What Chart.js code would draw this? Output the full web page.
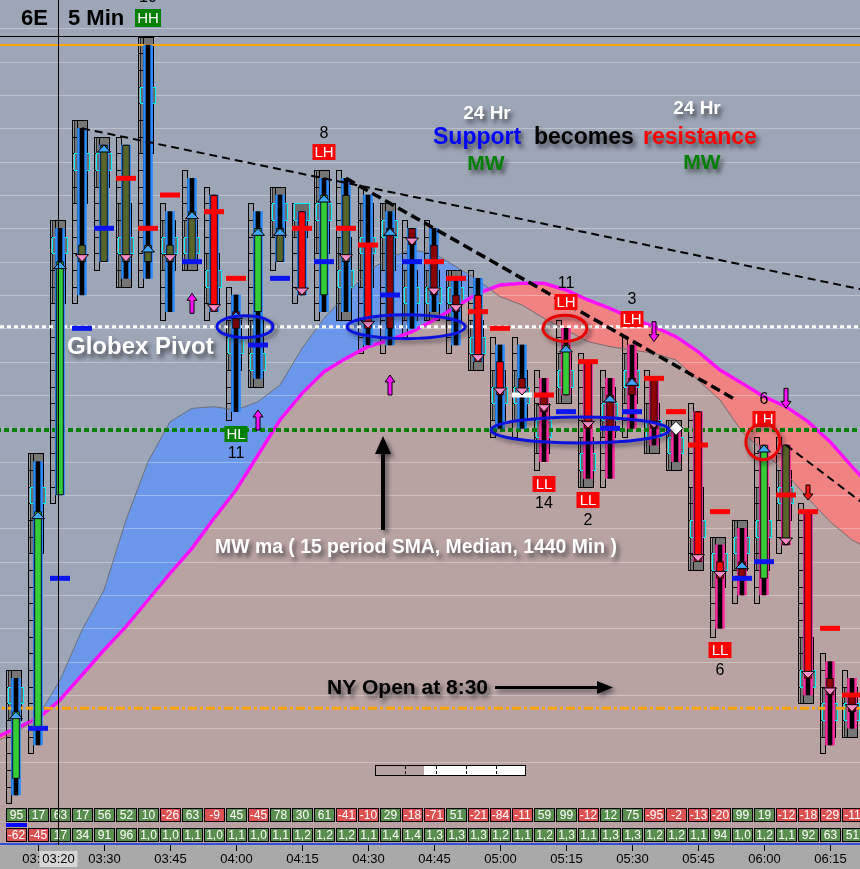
<!DOCTYPE html>
<html>
<head>
<meta charset="utf-8">
<title>6E 5 Min</title>
<script src="https://cdn.jsdelivr.net/npm/chart.js@4.4.1/dist/chart.umd.min.js"></script>
<style>
  html, body { margin: 0; padding: 0; background: #9da6b6; overflow: hidden; }
  canvas { display: block; }
</style>
</head>
<body>
<canvas id="chart" width="860" height="869"></canvas>
<script>
// 6E (Euro FX futures), 5-minute bars

const times = ['03:10','03:15','03:20','03:25','03:30','03:35','03:40','03:45','03:50','03:55',
  '04:00','04:05','04:10','04:15','04:20','04:25','04:30','04:35','04:40','04:45',
  '04:50','04:55','05:00','05:05','05:10','05:15','05:20','05:25','05:30','05:35',
  '05:40','05:45','05:50','05:55','06:00','06:05','06:10','06:15','06:20'];

const opens  = [1.3201,1.3204,1.3218,1.3233,1.3232,1.3239,1.3232,1.3233,1.3232,1.3236,
  1.3228,1.3229,1.3232,1.3235,1.3230,1.3236,1.3233,1.3228,1.3234,1.3233,
  1.3230,1.3230,1.3226,1.3225,1.3224,1.3224,1.3226,1.3222,1.3224,1.3225,
  1.3222,1.3223,1.3214,1.3213,1.3213,1.3221,1.3217,1.3207,1.3206];
const highs  = [1.3207,1.3220,1.3234,1.3240,1.3239,1.3239,1.3245,1.3235,1.3237,1.3236,
  1.3230,1.3235,1.3236,1.3235,1.3237,1.3237,1.3236,1.3235,1.3234,1.3234,
  1.3231,1.3231,1.3227,1.3227,1.3225,1.3228,1.3226,1.3225,1.3227,1.3225,
  1.3222,1.3223,1.3215,1.3216,1.3221,1.3221,1.3217,1.3208,1.3207];
const lows   = [1.3200,1.3203,1.3218,1.3230,1.3232,1.3231,1.3231,1.3229,1.3232,1.3229,
  1.3223,1.3225,1.3232,1.3230,1.3229,1.3229,1.3227,1.3227,1.3228,1.3229,
  1.3227,1.3226,1.3222,1.3222,1.3220,1.3224,1.3219,1.3219,1.3222,1.3221,
  1.3220,1.3214,1.3210,1.3212,1.3212,1.3215,1.3206,1.3203,1.3204];
const closes = [1.3205,1.3217,1.3232,1.3232,1.3239,1.3232,1.3233,1.3232,1.3235,1.3229,
  1.3229,1.3234,1.3234,1.3230,1.3236,1.3232,1.3228,1.3234,1.3233,1.3230,
  1.3229,1.3226,1.3224,1.3224,1.3223,1.3227,1.3222,1.3224,1.3225,1.3222,
  1.3222,1.3214,1.3213,1.3214,1.3221,1.3215,1.3207,1.3206,1.3205];

// price of the busiest level inside each bar
const poc = [1.3206,1.3218,1.3233,1.3238,1.3238,1.3233,1.3242,1.3233,1.3233,1.3231,
  1.3227,1.3226,1.3235,1.3235,1.3235,1.3231,1.3233,1.3234,1.3230,1.3230,
  1.3230,1.3227,1.3224,1.3224,1.3222,1.3225,1.3220,1.3223,1.3225,1.3222,
  1.3221,1.3216,1.3214,1.3215,1.3216,1.3218,1.3207,1.3205,1.3205];

// body tone: G strong up, O weak, R strong down, D weak down
const bodyTone = ['G','G','G','O','O','O','O','O','O','R','D','G','O','R','G','O','R','D','D','D',
  'D','R','R','D','D','G','R','D','D','D','D','R','R','D','G','O','R','D','D'];
// trend state of each bar (outline colour)
const trendState = ['up','up','up','up','up','up','up','up','up','up','up','up','up','up','up','up',
  'up','up','up','up','up','up','up','up','dn','dn','dn','dn','dn','dn','dn','dn','dn','dn','dn',
  'dn','dn','dn','dn'];

// short level markers next to the bars (s = support, r = resistance, w = neutral)
const markBars   = [1,2,3,4,5,6,7,8,9,10,11,12,13,14,15,16,17,18,19,20,21,22,23,24,25,26,27,28,29,30,
  31,32,33,34,35,36,37,38];
const markPrices = [1.3204,1.3213,1.3228,1.3234,1.3237,1.3234,1.3236,1.3232,1.3235,1.3231,
  1.3227,1.3231,1.3234,1.3232,1.3234,1.3233,1.3230,1.3232,1.3232,1.3231,
  1.3229,1.3228,1.3224,1.3224,1.3223,1.3226,1.3222,1.3223,1.3225,1.3223,
  1.3221,1.3217,1.3213,1.3214,1.3218,1.3217,1.3210,1.3206];
const markKinds  = ['s','s','s','s','r','r','r','s','r','r','s','s','r','s','r','r','s','s','r','r',
  'r','r','w','r','s','r','s','s','r','r','r','r','s','s','r','r','r','r'];

// MW moving average (15 period SMA, median, 1440 min) and the 24 hr MW line, 03:05 – 06:25
const mwMa = [1.32034,1.32040,1.32046,1.32057,1.32072,1.32087,1.32101,1.32117,1.32133,1.32148,
  1.32166,1.32183,1.32204,1.32225,1.32241,1.32254,1.32262,1.32269,1.32273,1.32278,
  1.32285,1.32293,1.32301,1.32306,1.32307,1.32307,1.32303,1.32297,1.32292,1.32286,
  1.32281,1.32275,1.32266,1.32255,1.32247,1.32239,1.32233,1.32224,1.32212,1.32197,1.32183];
const mw24 = [1.32032,1.32037,1.32047,1.32069,1.32099,1.32123,1.32165,1.32200,1.32224,1.32232,
  1.32233,1.32231,1.32236,1.32246,1.32268,1.32286,1.32300,1.32314,1.32323,1.32327,
  1.32325,1.32317,1.32309,1.32299,1.32294,1.32286,1.32279,1.32272,1.32269,1.32267,
  1.32265,1.32261,1.32249,1.32237,1.32218,1.32206,1.32193,1.32178,1.32164,1.32153,1.32146];

// horizontal levels
const dayHigh = 1.3245;
const globexPivot = 1.32281;
const mwLevel = 1.32219;
const nyLevel = 1.32052;

// trend lines: two anchor bars/prices and the bar where the line stops
const trendFrom = [[3, 1.3240], [15, 1.3237], [35, 1.3221]];
const trendTo   = [[14, 1.3237], [19, 1.3234], [38, 1.3218]];
const trendEnd  = [39, 32.6, 39];

// swing labels
const swingBars   = [6, 14, 10, 25, 28, 24, 26, 32, 34];
const swingTags   = ['HH','LH','HL','LH','LH','LL','LL','LL','LH'];
const swingCounts = [10, 8, 11, 11, 3, 14, 2, 6, 6];

// flow arrows: bar, direction, tip price
const flowBars = [8, 11, 17, 29, 35, 36];
const flowDirs = ['up','up','up','dn','dn','dn'];
const flowTips = [1.32301, 1.32231, 1.32252, 1.32272, 1.32232, 1.32177];

// bottom rows
const deltaRow = [95,17,63,17,56,52,10,-26,63,-9,45,-45,78,30,61,-41,-10,29,-18,-71,
  51,-21,-84,-11,59,99,-12,12,75,-95,-2,-13,-20,99,19,-12,-18,-29,-11];
const volRow = ['-62','-45','17','34','91','96','1,0','1,0','1,1','1,0','1,1','1,0','1,1','1,2','1,2',
  '1,2','1,1','1,4','1,4','1,3','1,3','1,3','1,2','1,1','1,2','1,3','1,1','1,3','1,3','1,2',
  '1,2','1,1','94','1,0','1,2','1,1','92','63','51'];

const cursorT = 1.9;   // crosshair position (bar units)
const TICK = 0.0001;

// ---------- styling ----------
const toneColor = { G: '#35cc35', O: '#57652b', R: '#ff0000', D: '#8b0000' };
const trendColor = { up: '#2a8cff', dn: '#ff2aa0' };
const markColor = { s: '#0a14f0', r: '#ff0000', w: '#ffffff' };
const SANS = '"Liberation Sans", Arial, sans-serif';

function levelLine(value) { return [{ x: -2, y: value }, { x: 41, y: value }]; }
function trendData(j) {
  const [t0, p0] = trendFrom[j], [t1, p1] = trendTo[j];
  const slope = (p1 - p0) / (t1 - t0);
  return [{ x: t0, y: p0 }, { x: trendEnd[j], y: p0 + slope * (trendEnd[j] - t0) }];
}

function shadowText(ctx, txt, x, y, font, color, align) {
  ctx.save();
  ctx.font = font; ctx.textAlign = align || 'left'; ctx.textBaseline = 'middle';
  ctx.shadowColor = 'rgba(40,40,45,0.7)'; ctx.shadowOffsetX = 3; ctx.shadowOffsetY = 4; ctx.shadowBlur = 4;
  ctx.fillStyle = color; ctx.fillText(txt, x, y);
  ctx.restore();
}

function arrow(ctx, x, tipY, dir, len, headW, headH, shaftW, fill) {
  const s = dir === 'up' ? 1 : -1;
  ctx.beginPath();
  ctx.moveTo(x, tipY);
  ctx.lineTo(x + headW / 2, tipY + s * headH);
  ctx.lineTo(x + shaftW / 2, tipY + s * headH);
  ctx.lineTo(x + shaftW / 2, tipY + s * len);
  ctx.lineTo(x - shaftW / 2, tipY + s * len);
  ctx.lineTo(x - shaftW / 2, tipY + s * headH);
  ctx.lineTo(x - headW / 2, tipY + s * headH);
  ctx.closePath();
  ctx.fillStyle = fill; ctx.fill();
  ctx.strokeStyle = '#000'; ctx.lineWidth = 1; ctx.stroke();
}

const decor = {
  id: 'decor',
  beforeDraw(chart) {
    const { ctx, width, height, chartArea } = chart;
    ctx.save();
    ctx.fillStyle = '#9da6b6'; ctx.fillRect(0, 0, width, height);
    ctx.fillStyle = '#b8a1a1'; ctx.fillRect(0, chartArea.bottom, width, 845 - chartArea.bottom);
    ctx.fillStyle = '#a9a9a9'; ctx.fillRect(0, 845, width, height - 845);
    ctx.restore();
  },
  beforeDatasetsDraw(chart) {
    const { ctx, chartArea } = chart;
    const xs = chart.scales.x, ys = chart.scales.y;
    ctx.save();
    // price grid, over the band fills
    ctx.strokeStyle = 'rgba(255,255,255,0.32)'; ctx.lineWidth = 1;
    ys.ticks.forEach(t => {
      const v = t.value / TICK;
      if (Math.abs(v - Math.round(v)) > 1e-3) return;
      const y = Math.round(ys.getPixelForValue(t.value)) + 0.5;
      ctx.beginPath(); ctx.moveTo(chartArea.left, y); ctx.lineTo(chartArea.right, y); ctx.stroke();
    });
    // per-bar price ladders
    times.forEach((t, i) => {
      const cx = Math.round(xs.getPixelForValue(i));
      const lo = Math.round(lows[i] / TICK), hi = Math.round(highs[i] / TICK), pc = Math.round(poc[i] / TICK);
      const reach = Math.max(1, Math.round((hi - lo) / 5));
      for (let k = lo; k <= hi; k++) {
        const yT = Math.round(ys.getPixelForValue((k + 0.5) * TICK));
        const yB = Math.round(ys.getPixelForValue((k - 0.5) * TICK));
        if (k !== pc && Math.abs(k - pc) <= reach) {
          ctx.fillStyle = '#767676'; ctx.fillRect(cx - 8, yT, 14, yB - yT);
          ctx.strokeStyle = '#000'; ctx.lineWidth = 1; ctx.strokeRect(cx - 7.5, yT + 0.5, 13, yB - yT);
        }
        ctx.fillStyle = 'rgba(125,125,125,0.3)'; ctx.fillRect(cx - 9, yT, 5, yB - yT);
        ctx.strokeStyle = '#000'; ctx.lineWidth = 1; ctx.strokeRect(cx - 9.5, yT + 0.5, 5, yB - yT);
      }
      const yT = Math.round(ys.getPixelForValue((pc + 0.5) * TICK));
      const yB = Math.round(ys.getPixelForValue((pc - 0.5) * TICK));
      ctx.fillStyle = '#6c6c6c'; ctx.fillRect(cx - 8, yT, 15, yB - yT);
      ctx.strokeStyle = '#00f0ff'; ctx.strokeRect(cx - 7.5, yT + 0.5, 15, yB - yT);
    });
    ctx.restore();
  },
  afterDatasetsDraw(chart) {
    const { ctx } = chart;
    const xs = chart.scales.x, ys = chart.scales.y;
    ctx.save();
    // close markers
    times.forEach((t, i) => {
      const cx = Math.round(xs.getPixelForValue(i));
      const cy = ys.getPixelForValue(closes[i]);
      ctx.lineWidth = 1; ctx.strokeStyle = '#000';
      ctx.beginPath();
      if (closes[i] > opens[i]) {
        ctx.moveTo(cx, cy); ctx.lineTo(cx + 6.5, cy + 7); ctx.lineTo(cx - 6.5, cy + 7);
        ctx.fillStyle = '#3ea6ff';
      } else if (closes[i] < opens[i]) {
        ctx.moveTo(cx, cy); ctx.lineTo(cx + 6.5, cy - 7); ctx.lineTo(cx - 6.5, cy - 7);
        ctx.fillStyle = '#ff8cc6';
      } else {
        ctx.moveTo(cx, cy - 7); ctx.lineTo(cx + 7, cy); ctx.lineTo(cx, cy + 7); ctx.lineTo(cx - 7, cy);
        ctx.fillStyle = '#ffffff';
      }
      ctx.closePath(); ctx.fill(); ctx.stroke();
    });
    // flow arrows
    flowBars.forEach((b, j) => {
      const x = Math.round(xs.getPixelForValue(b));
      const tip = ys.getPixelForValue(flowTips[j]);
      if (j === flowBars.length - 1) arrow(ctx, x, tip, flowDirs[j], 15, 10, 6, 4, '#ff1010');
      else arrow(ctx, x, tip, flowDirs[j], 20, 10, 7, 4, '#ff10ff');
    });
    // swing labels
    swingBars.forEach((b, j) => {
      const tag = swingTags[j];
      const atHigh = tag[1] === 'H';
      const cx = Math.round(xs.getPixelForValue(b));
      const w = tag === 'HH' ? 26 : 23, h = tag === 'HH' ? 18 : 16;
      let top, numY;
      if (atHigh) { top = ys.getPixelForValue(highs[b]) - 18 - h; numY = top - 11; }
      else { top = ys.getPixelForValue(lows[b]) + 14; numY = top + h + 12; }
      ctx.fillStyle = tag[0] === 'H' ? '#008000' : '#ff0000';
      ctx.fillRect(cx - w / 2, Math.round(top), w, h);
      ctx.font = '15px ' + SANS; ctx.textAlign = 'center'; ctx.textBaseline = 'middle';
      ctx.fillStyle = '#ffffff'; ctx.fillText(tag, cx, Math.round(top) + h / 2 + 1);
      ctx.font = '16px ' + SANS; ctx.fillStyle = '#000';
      ctx.fillText(String(swingCounts[j]), cx, numY);
    });
    // ellipses around the tested levels
    const rings = [
      { t: 10.41, p: globexPivot, rx: 28, ry: 11, c: '#0a12e0' },
      { t: 17.73, p: globexPivot, rx: 59, ry: 12, c: '#0a12e0' },
      { t: 25.64, p: mwLevel, rx: 89, ry: 13, c: '#0a12e0' },
      { t: 24.95, p: 1.32280, rx: 22, ry: 13, c: '#e80000' },
      { t: 33.95, p: 1.32212, rx: 17, ry: 18, c: '#e80000' }
    ];
    rings.forEach(r => {
      ctx.save();
      ctx.shadowColor = 'rgba(30,30,40,0.55)'; ctx.shadowBlur = 4; ctx.shadowOffsetX = 3; ctx.shadowOffsetY = 3;
      ctx.beginPath();
      ctx.ellipse(xs.getPixelForValue(r.t), ys.getPixelForValue(r.p), r.rx, r.ry, 0, 0, Math.PI * 2);
      ctx.strokeStyle = r.c; ctx.lineWidth = 3; ctx.stroke();
      ctx.restore();
    });
    // annotations
    shadowText(ctx, 'Globex Pivot', 67, 347, 'bold 24px ' + SANS, '#ffffff');
    shadowText(ctx, '24 Hr', 487, 114, 'bold 19px ' + SANS, '#ffffff', 'center');
    shadowText(ctx, '24 Hr', 697, 109, 'bold 19px ' + SANS, '#ffffff', 'center');
    shadowText(ctx, 'Support', 433, 138, 'bold 23px ' + SANS, '#0000ff');
    shadowText(ctx, 'becomes', 534, 138, 'bold 23px ' + SANS, '#000000');
    shadowText(ctx, 'resistance', 643, 138, 'bold 23px ' + SANS, '#ff0000');
    shadowText(ctx, 'MW', 486, 164, 'bold 21px ' + SANS, '#008000', 'center');
    shadowText(ctx, 'MW', 702, 163, 'bold 21px ' + SANS, '#008000', 'center');
    shadowText(ctx, 'MW ma ( 15 period SMA, Median, 1440 Min )', 416, 548, 'bold 19.4px ' + SANS, '#ffffff', 'center');
    shadowText(ctx, 'NY Open at 8:30', 327, 688, 'bold 21px ' + SANS, '#000000');
    ctx.save();
    ctx.shadowColor = 'rgba(30,30,40,0.55)'; ctx.shadowBlur = 4; ctx.shadowOffsetX = 3; ctx.shadowOffsetY = 3;
    ctx.fillStyle = '#000';
    // arrow toward the NY open
    ctx.fillRect(495, 686, 104, 3);
    ctx.beginPath(); ctx.moveTo(613, 687.5); ctx.lineTo(597, 681); ctx.lineTo(597, 694); ctx.closePath(); ctx.fill();
    // arrow up to the MW band
    ctx.fillRect(381, 450, 4, 80);
    ctx.beginPath(); ctx.moveTo(383, 436); ctx.lineTo(391, 454); ctx.lineTo(375, 454); ctx.closePath(); ctx.fill();
    ctx.restore();
    // scroll widget
    ctx.fillStyle = '#ffffff'; ctx.fillRect(424, 765, 101, 11);
    ctx.strokeStyle = '#000'; ctx.lineWidth = 1; ctx.strokeRect(375.5, 765.5, 150, 10);
    ctx.setLineDash([3, 2]);
    [405, 436, 466, 496].forEach(x => { ctx.beginPath(); ctx.moveTo(x + 0.5, 766); ctx.lineTo(x + 0.5, 775); ctx.stroke(); });
    ctx.setLineDash([]);
    ctx.restore();
  },
  afterDraw(chart) {
    const { ctx, width } = chart;
    const xs = chart.scales.x;
    ctx.save();
    // bottom rows
    ctx.font = '12px ' + SANS; ctx.textAlign = 'center'; ctx.textBaseline = 'middle';
    times.forEach((t, i) => {
      const cx = Math.round(xs.getPixelForValue(i));
      const cells = [[String(deltaRow[i]), deltaRow[i] < 0, 808], [volRow[i], volRow[i][0] === '-', 828]];
      cells.forEach(([txt, neg, y]) => {
        ctx.fillStyle = neg ? '#dc5252' : '#5a8e4e';
        ctx.fillRect(cx - 10, y, 21, 14);
        ctx.strokeStyle = '#000'; ctx.lineWidth = 1; ctx.strokeRect(cx - 9.5, y + 0.5, 20, 13);
        ctx.fillStyle = '#fff'; ctx.fillText(txt, cx + 0.5, y + 7.5);
      });
    });
    ctx.fillStyle = '#0000ff'; ctx.fillRect(Math.round(xs.getPixelForValue(0)) - 10, 823, 21, 4);
    ctx.fillStyle = '#3050d8'; ctx.fillRect(0, 843, width, 2);
    // time axis
    ctx.font = '13px ' + SANS; ctx.fillStyle = '#000'; ctx.strokeStyle = '#000';
    times.forEach((t, i) => {
      if (+t.slice(3) % 15 !== 0) return;
      const x = Math.round(xs.getPixelForValue(i)) + 0.5;
      ctx.beginPath(); ctx.moveTo(x, 845); ctx.lineTo(x, 851); ctx.stroke();
      ctx.fillText(t, x, 859);
    });
    // crosshair
    const cxh = Math.round(xs.getPixelForValue(cursorT)) + 0.5;
    ctx.beginPath(); ctx.moveTo(cxh, 0); ctx.lineTo(cxh, 845); ctx.stroke();
    ctx.fillStyle = '#d6d6d6'; ctx.fillRect(cxh - 19, 851, 38, 16);
    ctx.fillStyle = '#000'; ctx.fillText(times[Math.round(cursorT)], cxh, 859);
    // header
    ctx.beginPath(); ctx.moveTo(0, 36.5); ctx.lineTo(width, 36.5); ctx.stroke();
    ctx.font = 'bold 22px ' + SANS; ctx.textAlign = 'right';
    ctx.fillText('6E', 48, 19);
    ctx.textAlign = 'left';
    ctx.fillText('5 Min', 68, 19);
    ctx.restore();
  }
};

const barCommon = { type: 'bar', grouped: false, borderSkipped: false };
const bodyBars = times.map((t, i) => i).filter(i => opens[i] !== closes[i]);

new Chart(document.getElementById('chart'), {
  type: 'bar',
  data: {
    datasets: [
      { type: 'line', label: 'MW ma', data: mwMa.map((v, i) => ({ x: i - 1, y: v })),
        borderColor: '#ff10ff', borderWidth: 3.5, pointRadius: 0, tension: 0,
        fill: 'start', backgroundColor: '#b9a2a2', order: 30 },
      { type: 'line', label: 'MW 24 Hr', data: mw24.map((v, i) => ({ x: i - 1, y: v })),
        borderColor: 'rgba(105,105,110,0.9)', borderWidth: 1, pointRadius: 0, tension: 0,
        fill: { target: 0, above: '#6a97ea', below: '#f08282' }, order: 29 },
      { type: 'line', label: 'High', data: levelLine(dayHigh), borderColor: '#ffa500', borderWidth: 2,
        pointRadius: 0, order: 25 },
      { type: 'line', label: 'Globex Pivot', data: levelLine(globexPivot), borderColor: '#ffffff', borderWidth: 3,
        borderDash: [4, 3], pointRadius: 0, order: 25 },
      { type: 'line', label: 'MW level', data: levelLine(mwLevel), borderColor: '#008000', borderWidth: 4,
        borderDash: [5, 3], pointRadius: 0, order: 25 },
      { type: 'line', label: 'NY', data: levelLine(nyLevel), borderColor: '#ffa500', borderWidth: 3,
        borderDash: [9, 3, 3, 3], pointRadius: 0, order: 25 },
      { ...barCommon, label: 'trend', data: times.map((t, i) => ({ x: i, y: [lows[i], highs[i]] })),
        backgroundColor: trendState.map(s => trendColor[s]), barThickness: 9, maxBarThickness: 9, order: 20 },
      { ...barCommon, label: 'range', data: times.map((t, i) => ({ x: i, y: [lows[i], highs[i]] })),
        backgroundColor: '#000000', barThickness: 4, maxBarThickness: 4, order: 19 },
      { ...barCommon, label: 'body',
        data: bodyBars.map(i => ({ x: i, y: [opens[i], closes[i]] })),
        backgroundColor: bodyBars.map(i => toneColor[bodyTone[i]]), borderColor: '#000', borderWidth: 1,
        barThickness: 7, maxBarThickness: 7, order: 18 },
      { type: 'scatter', label: 'levels', data: markBars.map((b, j) => ({ x: b, y: markPrices[j] })),
        pointStyle: 'line', pointRadius: 10, pointBorderWidth: 5,
        pointBorderColor: markKinds.map(k => markColor[k]), pointBackgroundColor: markKinds.map(k => markColor[k]),
        order: 17 },
      ...trendFrom.map((a, j) => ({ type: 'line', label: 'trend line', data: trendData(j),
        borderColor: '#000', borderWidth: j === 1 ? 3.5 : 2, borderDash: j === 1 ? [10, 5] : [8, 5],
        pointRadius: 0, order: 5 }))
    ]
  },
  options: {
    responsive: false, animation: false, events: [], devicePixelRatio: 1,
    layout: { autoPadding: false, padding: { left: 0, right: 0, top: 0, bottom: 64 } },
    plugins: {
      legend: { display: false }, tooltip: { enabled: false },
      filler: { drawTime: 'beforeDatasetsDraw', propagate: false }
    },
    scales: {
      x: { type: 'linear', display: false, min: -0.7273, max: 38.3636, offset: false, grid: { display: false } },
      y: { type: 'linear', display: false, min: 1.31994, max: 1.32477, beginAtZero: false,
           ticks: { stepSize: TICK }, grid: { display: false } }
    }
  },
  plugins: [decor]
});
</script>
</body>
</html>
